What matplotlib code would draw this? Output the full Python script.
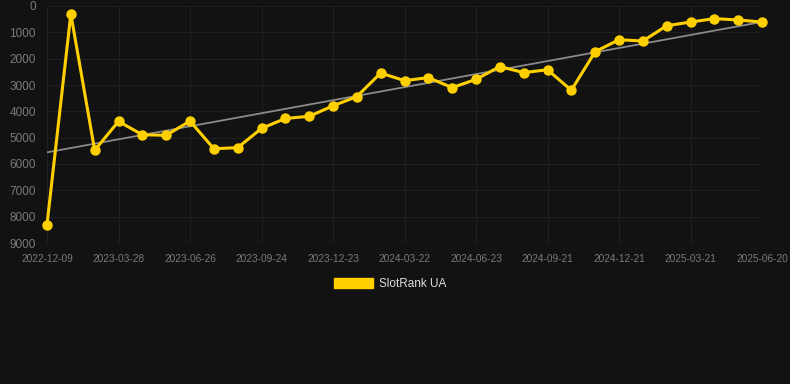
from matplotlib import pyplot as plt
from matplotlib.patches import Patch
import numpy as np

# rank values, one per snapshot (lower is better, axis inverted)
ranks = [8300, 300, 5480, 4380, 4890, 4910, 4370, 5420, 5380, 4650,
         4270, 4190, 3790, 3440, 2545, 2835, 2720, 3100, 2785, 2300,
         2530, 2420, 3200, 1735, 1280, 1330, 750, 610, 480, 530, 610]
tick_labels = ['2022-12-09', '2023-03-28', '2023-06-26', '2023-09-24',
               '2023-12-23', '2024-03-22', '2024-06-23', '2024-09-21',
               '2024-12-21', '2025-03-21', '2025-06-20']
y_ticks = [0, 1000, 2000, 3000, 4000, 5000, 6000, 7000, 8000, 9000]

bg = '#121212'
gold = '#FFD000'
plt.rcParams['font.family'] = ['Liberation Sans', 'DejaVu Sans']

fig = plt.figure(figsize=(7.9, 3.84), dpi=100, facecolor=bg)
ax = fig.add_axes([47/790, 1 - 243/384, 715/790, 237/384])
ax.set_facecolor(bg)

x = np.arange(len(ranks))
# linear trend
k, b = np.polyfit(x, ranks, 1)
ax.plot(x, k*x + b, color='#8a8a8a', lw=1.3, zorder=2)
ax.plot(x, ranks, color=gold, lw=2.2, marker='o', ms=6.5, zorder=3,
        clip_on=False)

ax.set_xlim(0, len(ranks) - 1)
ax.set_ylim(9000, 0)
ax.set_xticks(x[::3])
ax.set_xticklabels(tick_labels)
ax.set_yticks(y_ticks)
ax.tick_params(axis='x', length=0, pad=8, labelsize=7.3, colors='#7a7a7a')
ax.tick_params(axis='y', length=0, pad=8, labelsize=8.5, colors='#7a7a7a')
ax.grid(True, color='#1f1f1f', lw=0.8)
for s in ax.spines.values():
    s.set_visible(False)
ax.axhline(9000, color='#2e2e2e', lw=0.9, zorder=1)

fig.legend(handles=[Patch(color=gold, label='SlotRank UA')], loc='center',
           bbox_to_anchor=(390/790, 1 - 284/384), frameon=False,
           handlelength=3.3, handleheight=1.0, fontsize=8.5,
           labelcolor='#dddddd', handletextpad=0.5)

plt.savefig('out.png', facecolor=bg)
